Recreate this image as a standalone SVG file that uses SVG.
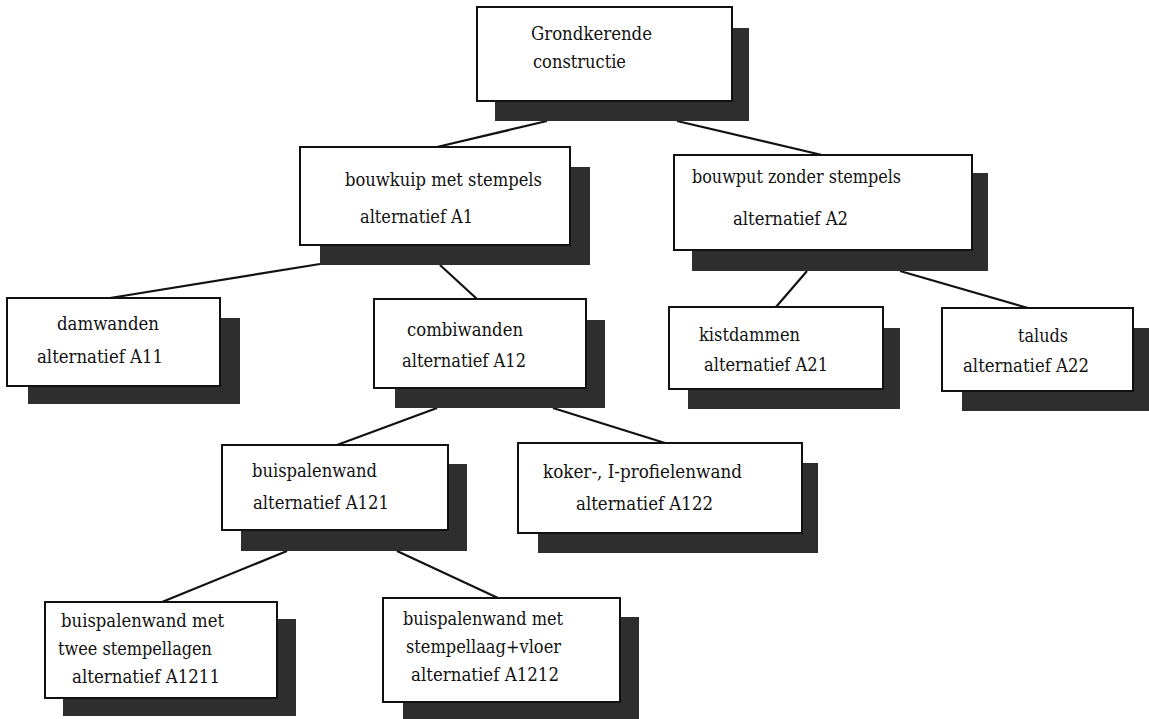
<svg xmlns="http://www.w3.org/2000/svg" width="1149" height="719" viewBox="0 0 1149 719">
<style>
.sh{fill:#2e2e2e;}
.bx{fill:#fff;stroke:#111;stroke-width:2;}
text{font-family:'DejaVu Serif','Liberation Serif',serif;font-size:18px;fill:#111;}
.ln{stroke:#111;stroke-width:2.2;fill:none;}
</style>
<rect width="1149" height="719" fill="#fff"/>
<g id="connectors">
<line class="ln" x1="547" y1="121" x2="437" y2="147"/>
<line class="ln" x1="677" y1="121" x2="822" y2="155"/>
<line class="ln" x1="320" y1="264" x2="110" y2="298"/>
<line class="ln" x1="440" y1="265" x2="477" y2="299"/>
<line class="ln" x1="807" y1="271" x2="776" y2="307"/>
<line class="ln" x1="900" y1="271" x2="1028" y2="308"/>
<line class="ln" x1="437" y1="408" x2="337" y2="445"/>
<line class="ln" x1="553" y1="408" x2="665" y2="443"/>
<line class="ln" x1="287" y1="551" x2="162" y2="602"/>
<line class="ln" x1="397" y1="551" x2="498" y2="598"/>
</g>
<g id="root">
<rect class="sh" x="495" y="28" width="254" height="93"/>
<rect class="bx" x="477" y="7" width="255" height="94"/>
<text x="531" y="40" textLength="121" lengthAdjust="spacingAndGlyphs">Grondkerende</text>
<text x="533" y="68" textLength="93" lengthAdjust="spacingAndGlyphs">constructie</text>
</g>
<g id="A1">
<rect class="sh" x="320" y="167" width="270" height="98"/>
<rect class="bx" x="300" y="147" width="270" height="98"/>
<text x="345" y="186" textLength="197" lengthAdjust="spacingAndGlyphs">bouwkuip met stempels</text>
<text x="360" y="223" textLength="113" lengthAdjust="spacingAndGlyphs">alternatief A1</text>
</g>
<g id="A2">
<rect class="sh" x="692" y="173" width="296" height="98"/>
<rect class="bx" x="674" y="155" width="298" height="95"/>
<text x="692" y="183" textLength="209" lengthAdjust="spacingAndGlyphs">bouwput zonder stempels</text>
<text x="733" y="225" textLength="115" lengthAdjust="spacingAndGlyphs">alternatief A2</text>
</g>
<g id="A11">
<rect class="sh" x="28" y="318" width="212" height="86"/>
<rect class="bx" x="7" y="298" width="213" height="88"/>
<text x="57" y="330" textLength="102" lengthAdjust="spacingAndGlyphs">damwanden</text>
<text x="37" y="363" textLength="126" lengthAdjust="spacingAndGlyphs">alternatief A11</text>
</g>
<g id="A12">
<rect class="sh" x="395" y="320" width="210" height="88"/>
<rect class="bx" x="374" y="299" width="212" height="89"/>
<text x="407" y="336" textLength="116" lengthAdjust="spacingAndGlyphs">combiwanden</text>
<text x="402" y="367" textLength="124" lengthAdjust="spacingAndGlyphs">alternatief A12</text>
</g>
<g id="A21">
<rect class="sh" x="688" y="328" width="212" height="81"/>
<rect class="bx" x="669" y="307" width="214" height="82"/>
<text x="699" y="341" textLength="101" lengthAdjust="spacingAndGlyphs">kistdammen</text>
<text x="704" y="371" textLength="124" lengthAdjust="spacingAndGlyphs">alternatief A21</text>
</g>
<g id="A22">
<rect class="sh" x="962" y="328" width="195" height="83"/>
<rect class="bx" x="942" y="308" width="191" height="83"/>
<text x="1018" y="342" textLength="50" lengthAdjust="spacingAndGlyphs">taluds</text>
<text x="963" y="372" textLength="126" lengthAdjust="spacingAndGlyphs">alternatief A22</text>
</g>
<g id="A121">
<rect class="sh" x="241" y="464" width="226" height="87"/>
<rect class="bx" x="222" y="445" width="226" height="85"/>
<text x="252" y="477" textLength="125" lengthAdjust="spacingAndGlyphs">buispalenwand</text>
<text x="253" y="509" textLength="136" lengthAdjust="spacingAndGlyphs">alternatief A121</text>
</g>
<g id="A122">
<rect class="sh" x="538" y="463" width="280" height="90"/>
<rect class="bx" x="518" y="443" width="284" height="90"/>
<text x="543" y="478" textLength="199" lengthAdjust="spacingAndGlyphs">koker-, I-profielenwand</text>
<text x="576" y="510" textLength="137" lengthAdjust="spacingAndGlyphs">alternatief A122</text>
</g>
<g id="A1211">
<rect class="sh" x="63" y="619" width="233" height="97"/>
<rect class="bx" x="45" y="602" width="232" height="96"/>
<text x="61" y="627" textLength="163" lengthAdjust="spacingAndGlyphs">buispalenwand met</text>
<text x="58" y="655" textLength="154" lengthAdjust="spacingAndGlyphs">twee stempellagen</text>
<text x="72" y="683" textLength="148" lengthAdjust="spacingAndGlyphs">alternatief A1211</text>
</g>
<g id="A1212">
<rect class="sh" x="403" y="617" width="236" height="108"/>
<rect class="bx" x="383" y="598" width="237" height="104"/>
<text x="403" y="625" textLength="160" lengthAdjust="spacingAndGlyphs">buispalenwand met</text>
<text x="406" y="653" textLength="155" lengthAdjust="spacingAndGlyphs">stempellaag+vloer</text>
<text x="411" y="681" textLength="148" lengthAdjust="spacingAndGlyphs">alternatief A1212</text>
</g>
</svg>
